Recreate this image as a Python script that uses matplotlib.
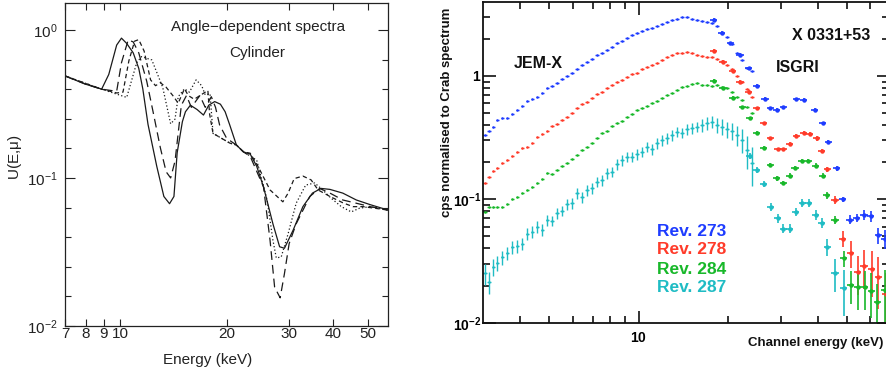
import numpy as np
import matplotlib.pyplot as plt
from matplotlib.ticker import FixedLocator, NullFormatter, FixedFormatter, LogFormatterMathtext

plt.rcParams['font.family'] = ['Liberation Sans', 'DejaVu Sans']
plt.rcParams['mathtext.fontset'] = 'custom'
plt.rcParams['mathtext.rm'] = 'Liberation Sans'
plt.rcParams['mathtext.it'] = 'Liberation Sans:italic'
plt.rcParams['mathtext.bf'] = 'Liberation Sans:bold'
plt.rcParams['mathtext.default'] = 'regular'

#---LEFT PANEL: angle-dependent spectra
e_solid = [7.0, 8.0, 8.88, 9.3, 9.79, 10.1, 10.45, 10.9, 11.3, 11.6, 12.0, 12.7, 13.3, 13.8, 14.2, 14.5,
           15.0, 15.3, 15.8, 16.5, 17.2, 17.8, 18.5, 19.2, 19.8, 20.4, 21.3, 22.3, 23.3, 24.3, 25.4,
           27.0, 28.2, 29.1, 30.8, 32.8, 34.9, 36.9, 39.1, 42.5, 46.4, 50.8, 57.0]
u_solid = [0.489, 0.43, 0.398, 0.50, 0.79, 0.88, 0.81, 0.70, 0.55, 0.40, 0.23, 0.12, 0.075, 0.067, 0.075, 0.148,
           0.24, 0.28, 0.31, 0.29, 0.266, 0.31, 0.328, 0.315, 0.28, 0.228, 0.167, 0.15, 0.145, 0.12, 0.087,
           0.049, 0.0343, 0.0335, 0.0445, 0.064, 0.079, 0.085, 0.0837, 0.079, 0.071, 0.066, 0.0607]

e_long = [7.0, 8.0, 8.88, 9.79, 10.1, 10.55, 10.9, 11.3, 11.9, 12.4, 13.0, 13.5, 13.9, 14.3, 14.9, 15.4,
          15.9, 16.8, 17.4, 18.1, 18.6, 19.1, 20.0, 21.3, 22.3, 23.3, 25.4, 26.5, 27.3, 28.3, 29.1,
          30.0, 31.4, 34.3, 36.6, 39.1, 42.5, 46.4, 50.8, 57.0]
u_long = [0.489, 0.43, 0.398, 0.385, 0.60, 0.856, 0.83, 0.70, 0.45, 0.28, 0.16, 0.11, 0.10, 0.13, 0.31, 0.36,
          0.30, 0.36, 0.30, 0.354, 0.30, 0.228, 0.185, 0.167, 0.15, 0.14, 0.087, 0.038, 0.0183, 0.0155, 0.0226,
          0.036, 0.049, 0.075, 0.085, 0.079, 0.071, 0.0675, 0.064, 0.0607]

e_short = [7.0, 8.88, 9.8, 10.2, 10.6, 11.0, 11.3, 11.7, 12.2, 12.6, 13.0, 13.5, 14.1, 14.6, 15.2, 15.6,
           16.2, 16.8, 17.7, 17.9, 18.3, 19.0, 20.4, 21.3, 22.3, 23.3, 24.5, 26.5, 28.8, 29.8, 31.0,
           32.8, 34.6, 36.2, 39.1, 42.5, 45.4, 48.5, 57.0]
u_short = [0.489, 0.398, 0.375, 0.38, 0.62, 0.84, 0.86, 0.72, 0.46, 0.42, 0.44, 0.41, 0.36, 0.32, 0.40, 0.36,
           0.34, 0.36, 0.39, 0.27, 0.20, 0.19, 0.172, 0.167, 0.15, 0.147, 0.12, 0.083, 0.069, 0.079, 0.099,
           0.103, 0.097, 0.083, 0.075, 0.068, 0.064, 0.064, 0.0607]

e_dot = [7.0, 8.88, 10.45, 11.15, 11.5, 12.3, 13.2, 13.9, 14.3, 14.6, 15.2, 15.7, 16.4, 17.0, 17.4, 17.95,
         18.3, 19.0, 20.4, 21.3, 22.3, 24.3, 26.0, 27.0, 27.6, 28.5, 29.8, 31.4, 33.4, 35.4, 36.9,
         39.4, 42.1, 44.9, 47.4, 50.8, 57.0]
u_dot = [0.489, 0.398, 0.35, 0.60, 0.66, 0.627, 0.41, 0.232, 0.25, 0.354, 0.40, 0.38, 0.46, 0.42, 0.364, 0.37,
         0.20, 0.19, 0.172, 0.167, 0.15, 0.132, 0.071, 0.038, 0.0288, 0.0293, 0.042, 0.0675, 0.0895, 0.0925, 0.085,
         0.073, 0.064, 0.059, 0.0625, 0.064, 0.0607]

left_xticks = [7, 8, 9, 10, 20, 30, 40, 50]

#---RIGHT PANEL: X 0331+53 spectra, JEM-X and ISGRI
rev_labels = ['Rev. 273', 'Rev. 278', 'Rev. 284', 'Rev. 287']

# JEM-X channel energies (shared by all revolutions)
jx_e = [3.04, 3.14, 3.245, 3.347, 3.479, 3.616, 3.758, 3.906, 4.06, 4.22, 4.386, 4.559, 4.738, 4.925,
        5.119, 5.321, 5.53, 5.748, 5.974, 6.21, 6.453, 6.708, 6.973, 7.247, 7.534, 7.83, 8.139, 8.459,
        8.794, 9.139, 9.497, 9.872, 10.26, 10.67, 11.08, 11.52, 11.98, 12.45, 12.94, 13.45, 13.98, 14.53,
        15.1, 15.7, 16.31, 16.96, 17.63, 18.32, 19.04, 19.79, 20.57, 21.38, 22.23, 23.1, 24.01]
jx_v_273 = [0.3324, 0.3603, 0.3884, 0.4397, 0.4537, 0.4537, 0.4918, 0.5302, 0.5711, 0.631, 0.6469, 0.6803,
            0.7236, 0.7943, 0.8349, 0.872, 0.9397, 1.0, 1.051, 1.133, 1.22, 1.299, 1.365, 1.471, 1.527, 1.625,
            1.729, 1.864, 1.934, 2.033, 2.137, 2.218, 2.302, 2.39, 2.466, 2.543, 2.624, 2.741, 2.846, 2.917,
            2.99, 3.027, 2.917, 2.846, 2.81, 2.741, 2.673, 2.543, 2.246, 2.059, 1.817, 1.527, 1.348, 1.154, 1.105]
jx_v_278 = [0.1365, 0.1527, 0.1708, 0.1784, 0.1958, 0.2084, 0.2246, 0.2435, 0.2592, 0.2673, 0.288, 0.3221,
            0.3385, 0.3603, 0.3932, 0.4082, 0.4397, 0.4679, 0.4981, 0.547, 0.5929, 0.6193, 0.6592, 0.7146,
            0.7464, 0.7943, 0.8454, 0.8995, 0.928, 0.9876, 1.038, 1.064, 1.133, 1.19, 1.228, 1.267, 1.348,
            1.417, 1.48, 1.527, 1.546, 1.575, 1.546, 1.48, 1.453, 1.435, 1.417, 1.382, 1.331, 1.228, 1.133,
            1.0, 0.8995, 0.7796, 0.6803]
jx_v_284 = [0.0794, 0.0872, 0.0872, 0.0861, 0.0872, 0.0917, 0.1, 0.1051, 0.1132, 0.119, 0.1251, 0.1348,
            0.1453, 0.1646, 0.1605, 0.1729, 0.1863, 0.1958, 0.211, 0.2288, 0.2512, 0.2673, 0.288, 0.3122,
            0.3471, 0.3603, 0.3932, 0.4133, 0.4345, 0.4623, 0.4918, 0.5302, 0.547, 0.5711, 0.6003, 0.631,
            0.6592, 0.7013, 0.7327, 0.77, 0.8091, 0.8297, 0.8612, 0.872, 0.8454, 0.8454, 0.8297, 0.8454,
            0.8091, 0.7943, 0.7464, 0.6803, 0.6387, 0.5573, 0.4981]
jx_v_287 = [0.02512, 0.0215, 0.02845, 0.03028, 0.03386, 0.0365, 0.04081, 0.04184, 0.04343, 0.05234, 0.05467,
            0.06003, 0.0564, 0.06799, 0.06714, 0.077, 0.08091, 0.0917, 0.0928, 0.1118, 0.1038, 0.119, 0.1228,
            0.139, 0.1435, 0.1625, 0.1676, 0.1934, 0.2084, 0.2218, 0.2218, 0.2332, 0.2435, 0.2673, 0.2544,
            0.2845, 0.3028, 0.3122, 0.3324, 0.3537, 0.3471, 0.3695, 0.3764, 0.3884, 0.4007, 0.4133, 0.4264,
            0.4007, 0.3884, 0.3695, 0.3603, 0.3324, 0.3028, 0.2512, 0.1958]
jx_err_287 = [0.2, 0.2, 0.16, 0.14, 0.13, 0.12, 0.12, 0.12, 0.11, 0.11, 0.11, 0.11, 0.11, 0.1, 0.1, 0.1,
              0.1, 0.1, 0.1, 0.1, 0.1, 0.1, 0.1, 0.1, 0.1, 0.1, 0.1, 0.1, 0.1, 0.1, 0.1, 0.1, 0.1, 0.1,
              0.1, 0.1, 0.1, 0.1, 0.1, 0.1, 0.1, 0.1, 0.1, 0.1, 0.12, 0.12, 0.12, 0.14, 0.15, 0.15, 0.16,
              0.18, 0.22, 0.3, 0.35]

is_e_273 = [17.85, 19.0, 20.3, 21.9, 23.4, 24.9, 26.6, 27.7, 29.1, 30.6, 33.9, 35.8, 39.1, 41.5, 43.4,
            46.3, 48.5, 51.3, 54.0, 57.2, 60.2, 63.9, 67.3]
is_v_273 = [2.84, 2.25, 1.84, 1.48, 1.15, 0.83, 0.65, 0.547, 0.53, 0.557, 0.647, 0.639, 0.53, 0.413, 0.293,
            0.178, 0.10, 0.0686, 0.071, 0.075, 0.073, 0.051, 0.048]
is_err_273 = [0.03, 0.03, 0.03, 0.03, 0.03, 0.03, 0.03, 0.03, 0.03, 0.03, 0.03, 0.03, 0.03, 0.03, 0.04,
              0.04, 0.05, 0.08, 0.08, 0.10, 0.10, 0.15, 0.18]
is_e_278 = [17.85, 19.2, 20.7, 21.9, 23.4, 24.9, 26.3, 27.7, 29.3, 30.6, 32.2, 33.9, 35.8, 37.6, 39.6,
            41.2, 43.0, 45.7, 48.5, 51.6, 54.4, 57.2, 60.7, 63.9, 67.8]
is_v_278 = [1.60, 1.31, 1.10, 0.90, 0.746, 0.547, 0.413, 0.312, 0.254, 0.254, 0.281, 0.326, 0.347, 0.339, 0.312,
            0.248, 0.175, 0.099, 0.048, 0.037, 0.0259, 0.0288, 0.027, 0.0233, 0.017]
is_err_278 = [0.03, 0.03, 0.03, 0.03, 0.03, 0.03, 0.03, 0.03, 0.03, 0.03, 0.03, 0.03, 0.03, 0.03, 0.04,
              0.04, 0.05, 0.07, 0.15, 0.25, 0.35, 0.35, 0.40, 0.45, 0.50]
is_e_284 = [17.85, 19.2, 20.7, 22.3, 23.6, 24.9, 26.3, 27.7, 29.1, 30.6, 32.2, 33.5, 35.3, 37.2, 39.4,
            41.5, 42.9, 45.7, 48.8, 51.6, 54.4, 57.6, 60.5, 63.4, 67.3]
is_v_284 = [0.916, 0.795, 0.667, 0.557, 0.454, 0.347, 0.262, 0.19, 0.148, 0.135, 0.156, 0.18, 0.206, 0.206, 0.188,
            0.156, 0.108, 0.068, 0.0333, 0.0203, 0.0196, 0.0194, 0.0181, 0.0148, 0.0183]
is_err_284 = [0.03, 0.03, 0.03, 0.03, 0.03, 0.03, 0.03, 0.03, 0.04, 0.04, 0.04, 0.04, 0.04, 0.04, 0.04,
              0.05, 0.06, 0.08, 0.15, 0.30, 0.35, 0.35, 0.40, 0.40, 0.45]
is_e_287 = [23.6, 24.9, 26.3, 27.8, 29.3, 30.6, 32.2, 33.7, 35.5, 37.3, 39.4, 41.2, 43.0, 45.7, 48.8]
is_v_287 = [0.225, 0.173, 0.133, 0.087, 0.0701, 0.058, 0.058, 0.0792, 0.0937, 0.0937, 0.0747, 0.0647, 0.0412, 0.0254, 0.019]
is_err_287 = [0.05, 0.05, 0.06, 0.08, 0.08, 0.08, 0.08, 0.08, 0.08, 0.08, 0.09, 0.10, 0.15, 0.30, 0.40]

colours = ['#1e3cff', '#ff3b2a', '#18b82a', '#1fbcc4']
ISGRI_HALF_BIN = 0.028
JEMX_HALF_BIN = 0.014

fig = plt.figure(figsize=(8.87, 3.74), dpi=100)

#---LEFT AXES
ax1 = fig.add_axes([65/887, 1-326/374, (388-65)/887, (326-3)/374])
ln = dict(color='#1a1a1a', lw=0.9)
ax1.plot(e_solid, u_solid, ls='-', **ln)
ax1.plot(e_long, u_long, ls=(0, (7, 4)), **ln)
ax1.plot(e_short, u_short, ls=(0, (3.5, 2.5)), **ln)
ax1.plot(e_dot, u_dot, ls=(0, (1, 1.8)), **ln)
ax1.set_xscale('log')
ax1.set_yscale('log')
ax1.set_xlim(7, 57)
ax1.set_ylim(0.01, 1.52)
ax1.xaxis.set_major_locator(FixedLocator(left_xticks))
ax1.xaxis.set_major_formatter(FixedFormatter([str(t) for t in left_xticks]))
ax1.xaxis.set_minor_locator(FixedLocator([]))
ax1.yaxis.set_major_locator(FixedLocator([0.01, 0.1, 1.0]))
ax1.yaxis.set_major_formatter(LogFormatterMathtext())
ax1.yaxis.set_minor_locator(FixedLocator([10 ** (k * 0.2 - 2) for k in range(1, 11) if k % 5]))
ax1.yaxis.set_minor_formatter(NullFormatter())
ax1.tick_params(which='both', direction='in', top=True, right=True, labelsize=11, colors='#222222', width=0.8)
ax1.tick_params(axis='x', which='major', length=5, pad=1)
ax1.tick_params(axis='y', which='major', length=7, pad=5)
ax1.tick_params(axis='y', which='minor', length=4)
for s in ax1.spines.values():
    s.set_linewidth(0.9)
    s.set_color('#222222')
fig.text(258/887, 1-27/374, 'Angle\u2212dependent spectra', ha='center', va='center', fontsize=11, color='#222222')
fig.text(257/887, 1-53/374, 'Cylinder', ha='center', va='center', fontsize=11, color='#222222')
fig.text(208/887, 1-360/374, 'Energy (keV)', ha='center', va='center', fontsize=11, color='#222222')
fig.text(15/887, 1-157/374, 'U(E,$\\mu$)', ha='center', va='center', fontsize=11, rotation=90, color='#222222')

#---RIGHT AXES
ax2 = fig.add_axes([483.3/887, 1-322.7/374, (889-483.3)/887, (322.7-1.7)/374])
jemx = [(jx_v_273, None), (jx_v_278, None), (jx_v_284, None), (jx_v_287, jx_err_287)]
isgri = [(is_e_273, is_v_273, is_err_273), (is_e_278, is_v_278, is_err_278),
         (is_e_284, is_v_284, is_err_284), (is_e_287, is_v_287, is_err_287)]
e = np.array(jx_e)
for (v, er), c in zip(jemx, colours):
    v = np.array(v)
    yerr = None if er is None else v * np.array(er)
    ax2.errorbar(e, v, xerr=e * JEMX_HALF_BIN, yerr=yerr, fmt='o', ms=1.8, color=c,
                 elinewidth=1.0, capsize=0, mew=0)
for (ei, v, er), c in zip(isgri, colours):
    ei = np.array(ei)
    v = np.array(v)
    ax2.errorbar(ei, v, xerr=ei * ISGRI_HALF_BIN, yerr=v * np.array(er), fmt='o', ms=3.2, color=c,
                 elinewidth=1.2, capsize=0, mew=0)
ax2.set_xscale('log')
ax2.set_yscale('log')
ax2.set_xlim(3.0, 69.4)
ax2.set_ylim(0.01, 4.0)
ax2.xaxis.set_major_locator(FixedLocator([10]))
ax2.xaxis.set_major_formatter(FixedFormatter([r'$\mathbf{10}$']))
ax2.xaxis.set_minor_locator(FixedLocator([4, 5, 6, 7, 8, 9, 20, 30, 40, 50, 60]))
ax2.xaxis.set_minor_formatter(NullFormatter())
ax2.yaxis.set_major_locator(FixedLocator([0.01, 0.1, 1.0]))
ax2.yaxis.set_major_formatter(FixedFormatter([r'$\mathbf{10^{-2}}$', r'$\mathbf{10^{-1}}$', r'$\mathbf{1}$']))
ax2.yaxis.set_minor_locator(FixedLocator([m * 10.0 ** d for d in (-2, -1, 0) for m in range(2, 10) if m * 10.0 ** d < 4]))
ax2.yaxis.set_minor_formatter(NullFormatter())
ax2.tick_params(which='both', direction='in', top=True, right=True, labelsize=10, width=1.2, color='#111111')
ax2.tick_params(which='major', length=9)
ax2.tick_params(axis='x', which='major', pad=6)
ax2.tick_params(axis='y', which='major', pad=1.5)
ax2.tick_params(which='minor', length=5)
for s in ax2.spines.values():
    s.set_linewidth(1.3)
    s.set_color('#111111')

fig.text(538/887, 1-63/374, 'JEM-X', ha='center', va='center', fontsize=11.5, fontweight='bold', color='#111111')
fig.text(831/887, 1-35/374, 'X 0331+53', ha='center', va='center', fontsize=11.5, fontweight='bold', color='#111111')
fig.text(798/887, 1-68/374, 'ISGRI', ha='center', va='center', fontsize=11.5, fontweight='bold', color='#111111')
for lab, c, y in zip(rev_labels, colours, [231.7, 250.0, 269.3, 287.3]):
    fig.text(657.3/887, 1-y/374, lab, ha='left', va='center', fontsize=12.5, fontweight='bold', color=c)
fig.text(447/887, 1-112/374, 'cps normalised to Crab spectrum', ha='center', va='center', rotation=90,
         fontsize=9.5, fontweight='bold', color='#111111')
fig.text(748/887, 1-342.7/374, 'Channel energy (keV)', ha='left', va='center', fontsize=9.5,
         fontweight='bold', color='#111111')

fig.savefig('out.png', dpi=100)
